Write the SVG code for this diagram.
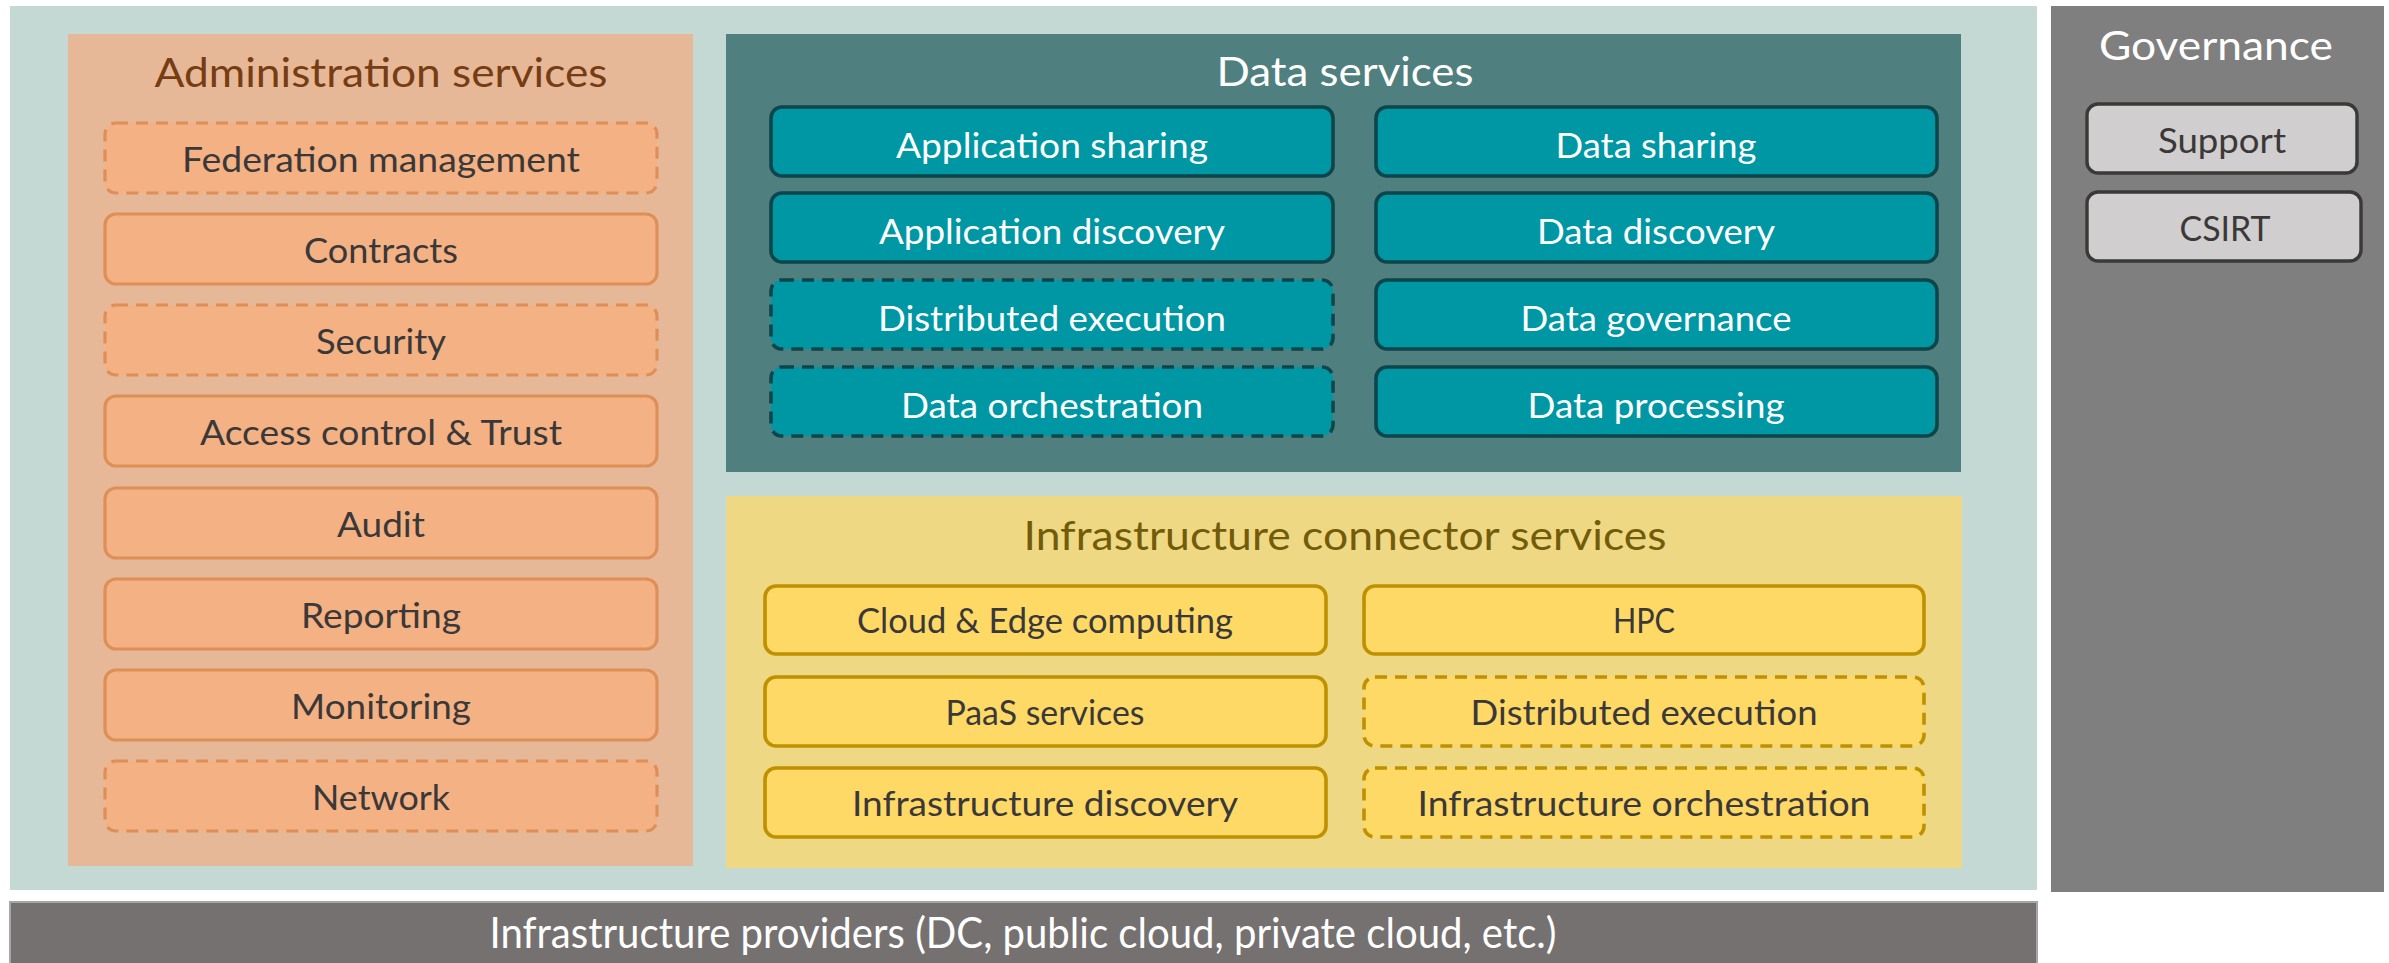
<svg xmlns="http://www.w3.org/2000/svg" width="2389" height="963" viewBox="0 0 2389 963">
<style>
text{font-family:Lato,"Open Sans","Liberation Sans",sans-serif;text-anchor:middle}
.it{font-size:35px;fill:#3a3838}
.itw{font-size:35px;fill:#ffffff}
.ttl{font-size:41px}
.adm{fill:#f4b183;stroke:#de8f58;stroke-width:3.2}
.dat{fill:#0097a5;stroke:#0c464b;stroke-width:3.6}
.inf{fill:#ffd966;stroke:#bf9000;stroke-width:3.6}
.gov{fill:#d0cece;stroke:#3b3838;stroke-width:3.4}
.dash{stroke-dasharray:12 8}
</style>
<rect width="2389" height="963" fill="#ffffff"/>
<g id="platform">
<rect x="10" y="6" width="2027" height="884" fill="#c5d9d4"/>
</g>
<g id="administration-services">
<rect x="68" y="34" width="625" height="832" fill="#e6b897"/>
<text class="ttl" x="381" y="87" fill="#763d14" textLength="453" lengthAdjust="spacingAndGlyphs">Administration services</text>
</g>
<g id="federation-management"><rect class="adm dash" x="105" y="123" width="552" height="70" rx="11"/><text class="it" x="381" y="172" textLength="398" lengthAdjust="spacingAndGlyphs">Federation management</text></g>
<g id="contracts"><rect class="adm" x="105" y="214" width="552" height="70" rx="11"/><text class="it" x="381" y="263" textLength="154" lengthAdjust="spacingAndGlyphs">Contracts</text></g>
<g id="security"><rect class="adm dash" x="105" y="305" width="552" height="70" rx="11"/><text class="it" x="381" y="354" textLength="130" lengthAdjust="spacingAndGlyphs">Security</text></g>
<g id="access-control-trust"><rect class="adm" x="105" y="396" width="552" height="70" rx="11"/><text class="it" x="381" y="445" textLength="362" lengthAdjust="spacingAndGlyphs">Access control &amp; Trust</text></g>
<g id="audit"><rect class="adm" x="105" y="488" width="552" height="70" rx="11"/><text class="it" x="381" y="537" textLength="88" lengthAdjust="spacingAndGlyphs">Audit</text></g>
<g id="reporting"><rect class="adm" x="105" y="579" width="552" height="70" rx="11"/><text class="it" x="381" y="628" textLength="160" lengthAdjust="spacingAndGlyphs">Reporting</text></g>
<g id="monitoring"><rect class="adm" x="105" y="670" width="552" height="70" rx="11"/><text class="it" x="381" y="719" textLength="180" lengthAdjust="spacingAndGlyphs">Monitoring</text></g>
<g id="network"><rect class="adm dash" x="105" y="761" width="552" height="70" rx="11"/><text class="it" x="381" y="810" textLength="138" lengthAdjust="spacingAndGlyphs">Network</text></g>

<g id="data-services">
<rect x="726" y="34" width="1235" height="438" fill="#4f7f7e"/>
<text class="ttl" x="1345" y="86" fill="#ffffff" textLength="257" lengthAdjust="spacingAndGlyphs">Data services</text>
</g>
<g id="application-sharing"><rect class="dat" x="771" y="107" width="562" height="69" rx="11"/><text class="itw" x="1052" y="158" textLength="312" lengthAdjust="spacingAndGlyphs">Application sharing</text></g>
<g id="application-discovery"><rect class="dat" x="771" y="193" width="562" height="69" rx="11"/><text class="itw" x="1052" y="244" textLength="346" lengthAdjust="spacingAndGlyphs">Application discovery</text></g>
<g id="distributed-execution-data"><rect class="dat dash" x="771" y="280" width="562" height="69" rx="11"/><text class="itw" x="1052" y="331" textLength="348" lengthAdjust="spacingAndGlyphs">Distributed execution</text></g>
<g id="data-orchestration"><rect class="dat dash" x="771" y="367" width="562" height="69" rx="11"/><text class="itw" x="1052" y="418" textLength="302" lengthAdjust="spacingAndGlyphs">Data orchestration</text></g>
<g id="data-sharing"><rect class="dat" x="1376" y="107" width="561" height="69" rx="11"/><text class="itw" x="1656" y="158" textLength="201" lengthAdjust="spacingAndGlyphs">Data sharing</text></g>
<g id="data-discovery"><rect class="dat" x="1376" y="193" width="561" height="69" rx="11"/><text class="itw" x="1656" y="244" textLength="238" lengthAdjust="spacingAndGlyphs">Data discovery</text></g>
<g id="data-governance"><rect class="dat" x="1376" y="280" width="561" height="69" rx="11"/><text class="itw" x="1656" y="331" textLength="271" lengthAdjust="spacingAndGlyphs">Data governance</text></g>
<g id="data-processing"><rect class="dat" x="1376" y="367" width="561" height="69" rx="11"/><text class="itw" x="1656" y="418" textLength="257" lengthAdjust="spacingAndGlyphs">Data processing</text></g>

<g id="infrastructure-connector-services">
<rect x="726" y="496" width="1236" height="372" fill="#efd883"/>
<text class="ttl" x="1345" y="550" fill="#725c0a" textLength="643" lengthAdjust="spacingAndGlyphs">Infrastructure connector services</text>
</g>
<g id="cloud-edge-computing"><rect class="inf" x="765" y="586" width="561" height="68" rx="11"/><text class="it" x="1045" y="633" textLength="376" lengthAdjust="spacingAndGlyphs">Cloud &amp; Edge computing</text></g>
<g id="paas-services"><rect class="inf" x="765" y="677" width="561" height="69" rx="11"/><text class="it" x="1045" y="725" textLength="199" lengthAdjust="spacingAndGlyphs">PaaS services</text></g>
<g id="infrastructure-discovery"><rect class="inf" x="765" y="768" width="561" height="69" rx="11"/><text class="it" x="1045" y="816" textLength="386" lengthAdjust="spacingAndGlyphs">Infrastructure discovery</text></g>
<g id="hpc"><rect class="inf" x="1364" y="586" width="560" height="68" rx="11"/><text class="it" x="1644" y="633" textLength="62" lengthAdjust="spacingAndGlyphs">HPC</text></g>
<g id="distributed-execution-infra"><rect class="inf dash" x="1364" y="677" width="560" height="69" rx="11"/><text class="it" x="1644" y="725" textLength="347" lengthAdjust="spacingAndGlyphs">Distributed execution</text></g>
<g id="infrastructure-orchestration"><rect class="inf dash" x="1364" y="768" width="560" height="69" rx="11"/><text class="it" x="1644" y="816" textLength="453" lengthAdjust="spacingAndGlyphs">Infrastructure orchestration</text></g>

<g id="governance">
<rect x="2051" y="6" width="333" height="886" fill="#7f7f7f"/>
<text class="ttl" x="2216" y="60" fill="#ffffff" textLength="234" lengthAdjust="spacingAndGlyphs">Governance</text>
</g>
<g id="support"><rect class="gov" x="2087" y="104" width="270" height="69" rx="11"/><text class="it" x="2222" y="153" textLength="128" lengthAdjust="spacingAndGlyphs">Support</text></g>
<g id="csirt"><rect class="gov" x="2087" y="192" width="274" height="69" rx="11"/><text class="it" x="2225" y="241" textLength="91" lengthAdjust="spacingAndGlyphs">CSIRT</text></g>

<g id="infrastructure-providers">
<rect x="10" y="902" width="2027" height="70" fill="#757171" stroke="#a6a6a6" stroke-width="2"/>
<text x="1023" y="948" font-size="42" fill="#ffffff" textLength="1067" lengthAdjust="spacingAndGlyphs">Infrastructure providers (DC, public cloud, private cloud, etc.)</text>
</g>
<g id="connectors"/>
</svg>
